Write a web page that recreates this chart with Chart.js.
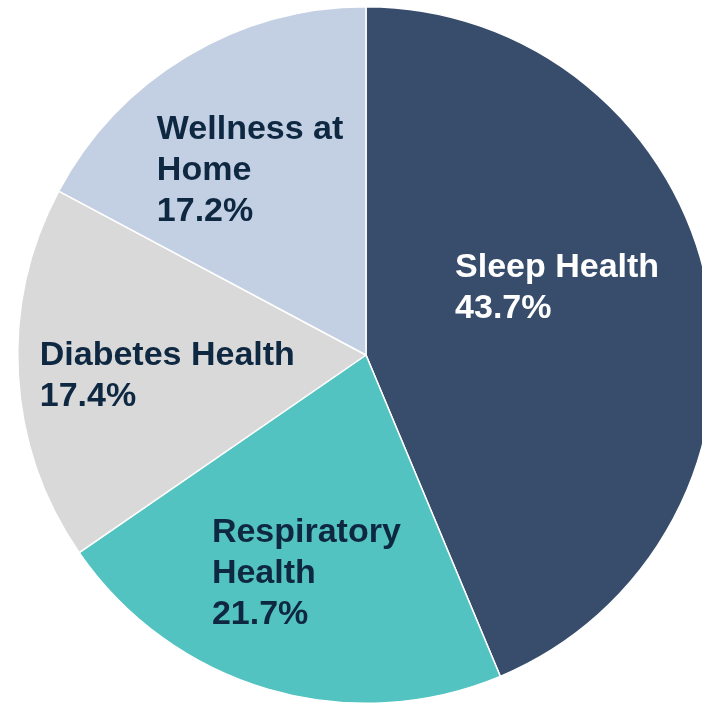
<!DOCTYPE html>
<html>
<head>
<meta charset="utf-8">
<script src="https://cdn.jsdelivr.net/npm/chart.js@4/dist/chart.umd.min.js"></script>
<style>
    html, body { margin: 0; padding: 0; background: #fff; overflow: hidden; }
    #wrap { width: 702px; height: 705px; overflow: hidden; position: relative; }
    #pie { position: absolute; left: 0; top: 0; }
</style>
</head>
<body>
<div id="wrap"><canvas id="pie" width="732" height="710"></canvas></div>
<script>
    var categories = ['Sleep Health', 'Respiratory Health', 'Diabetes Health', 'Wellness at Home'];
    var shares = [43.7, 21.7, 17.4, 17.2];
    // how each label is broken over lines
    var labelLines = [['Sleep Health'], ['Respiratory', 'Health'], ['Diabetes Health'], ['Wellness at', 'Home']];

    var sliceColors = ['#384D6C', '#53C3C1', '#D9D9D9', '#C3CFE2'];
    var textColors = ['#ffffff', '#0E2841', '#0E2841', '#0E2841'];
    // first baseline of each label, offset from pie centre, in px at radius 348
    var labelOffsets = [[89, -78], [-154, 187], [-326, 10], [-209, -216]];

    var sliceLabels = {
        id: 'sliceLabels',
        afterDatasetsDraw: function(chart) {
            var ctx = chart.ctx;
            var meta = chart.getDatasetMeta(0);
            ctx.save();
            ctx.font = 'bold 34px "Liberation Sans", Arial, sans-serif';
            ctx.textAlign = 'left';
            ctx.textBaseline = 'alphabetic';
            meta.data.forEach(function(arc, i) {
                var k = arc.outerRadius / 348;
                var x = arc.x + labelOffsets[i][0] * k;
                var y = arc.y + labelOffsets[i][1] * k;
                var lines = labelLines[i].concat([shares[i].toFixed(1) + '%']);
                ctx.fillStyle = textColors[i];
                lines.forEach(function(line, j) {
                    ctx.fillText(line, x, y + j * 41);
                });
            });
            ctx.restore();
        }
    };

    new Chart(document.getElementById('pie'), {
        type: 'pie',
        data: {
            labels: categories,
            datasets: [{
                data: shares,
                backgroundColor: sliceColors,
                borderColor: '#ffffff',
                borderWidth: 1.5
            }]
        },
        options: {
            responsive: false,
            animation: false,
            layout: { padding: 6 },
            plugins: {
                legend: { display: false },
                tooltip: { enabled: false }
            }
        },
        plugins: [sliceLabels]
    });
</script>
</body>
</html>
